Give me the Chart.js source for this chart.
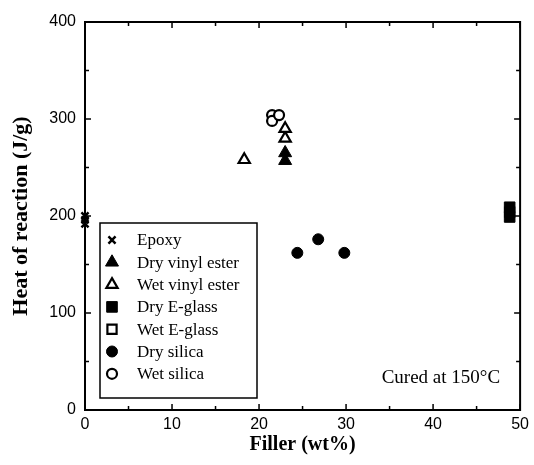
<!DOCTYPE html>
<html>
<head>
<meta charset="utf-8">
<script src="https://cdn.jsdelivr.net/npm/chart.js@4/dist/chart.umd.min.js"></script>
<style>
  html, body { margin: 0; padding: 0; background: #fff; }
  #wrap { width: 534px; height: 465px; }
</style>
</head>
<body>
<div id="wrap"><canvas id="grafico" width="534" height="465"></canvas></div>
<script>
// datos
const etiquetas = ['Epoxy', 'Dry vinyl ester', 'Wet vinyl ester', 'Dry E-glass', 'Wet E-glass', 'Dry silica', 'Wet silica'];

const epoxyX = [0, 0, 0];
const epoxyY = [192, 196, 200];

const dryVinylX = [23.0, 23.0];
const dryVinylY = [257, 265];

const wetVinylX = [18.3, 23.0, 23.0];
const wetVinylY = [258, 280, 290];

const dryGlassX = [48.8, 48.8];
const dryGlassY = [199, 209];

const wetGlassX = [48.8];
const wetGlassY = [204];

const drySilicaX = [24.4, 26.8, 29.8];
const drySilicaY = [162, 176, 162];

const wetSilicaX = [21.5, 21.5, 22.3];
const wetSilicaY = [304, 298, 304];

const ticksX = [0, 10, 20, 30, 40, 50];
const ticksY = [0, 100, 200, 300, 400];
const nota = 'Cured at 150°C';

const puntos = (xs, ys) => xs.map((x, i) => ({ x: x, y: ys[i] }));

const estilos = [
    { pointStyle: 'crossRot', pointRadius: 5, fill: '#000', borderWidth: 2.5 },
    { pointStyle: 'triangle', pointRadius: 7.5, fill: '#000', borderWidth: 1 },
    { pointStyle: 'triangle', pointRadius: 6.5, fill: '#fff', borderWidth: 2.2 },
    { pointStyle: 'rect', pointRadius: 7.5, fill: '#000', borderWidth: 1 },
    { pointStyle: 'rect', pointRadius: 6.5, fill: '#fff', borderWidth: 2.2 },
    { pointStyle: 'circle', pointRadius: 5.5, fill: '#000', borderWidth: 1 },
    { pointStyle: 'circle', pointRadius: 5, fill: '#fff', borderWidth: 2.2 }
];

const series = [
    puntos(epoxyX, epoxyY),
    puntos(dryVinylX, dryVinylY),
    puntos(wetVinylX, wetVinylY),
    puntos(dryGlassX, dryGlassY),
    puntos(wetGlassX, wetGlassY),
    puntos(drySilicaX, drySilicaY),
    puntos(wetSilicaX, wetSilicaY)
];

// orden de dibujo: los huecos debajo de los rellenos
const ordenDibujo = [4, 2, 6, 0, 1, 3, 5];

const datasets = etiquetas.map((label, i) => ({
    label: label,
    data: series[i],
    pointStyle: estilos[i].pointStyle,
    pointRadius: estilos[i].pointRadius,
    pointHoverRadius: estilos[i].pointRadius,
    pointBackgroundColor: estilos[i].fill,
    pointBorderColor: '#000',
    pointBorderWidth: estilos[i].borderWidth,
    showLine: false,
    clip: false,
    order: ordenDibujo.length - ordenDibujo.indexOf(i)
}));

// marco, marcas hacia dentro, leyenda y nota
const marcoPlugin = {
    id: 'marco',
    beforeDatasetsDraw(chart) {
        const ctx = chart.ctx;
        const a = chart.chartArea;
        const sx = chart.scales.x;
        const sy = chart.scales.y;
        ctx.save();
        ctx.strokeStyle = '#000';
        ctx.lineWidth = 2;
        ctx.strokeRect(a.left, a.top, a.right - a.left, a.bottom - a.top);

        ctx.lineWidth = 1.5;
        ctx.beginPath();
        for (let v = 0; v <= 50; v += 5) {
            const px = sx.getPixelForValue(v);
            const len = v % 10 === 0 ? 6 : 4;
            ctx.moveTo(px, a.bottom); ctx.lineTo(px, a.bottom - len);
            ctx.moveTo(px, a.top); ctx.lineTo(px, a.top + len);
        }
        for (let v = 0; v <= 400; v += 50) {
            const py = sy.getPixelForValue(v);
            const len = v % 100 === 0 ? 6 : 4;
            ctx.moveTo(a.left, py); ctx.lineTo(a.left + len, py);
            ctx.moveTo(a.right, py); ctx.lineTo(a.right - len, py);
        }
        ctx.stroke();
        ctx.restore();
    },
    afterDatasetsDraw(chart) {
        const ctx = chart.ctx;
        const a = chart.chartArea;
        ctx.save();
        // leyenda
        const bx = a.left + 15, by = a.top + 201, bw = 157, bh = 175;
        ctx.fillStyle = '#fff';
        ctx.fillRect(bx, by, bw, bh);
        ctx.strokeStyle = '#000';
        ctx.lineWidth = 1.5;
        ctx.strokeRect(bx, by, bw, bh);
        ctx.font = '17px "Liberation Serif", "Times New Roman", serif';
        ctx.textBaseline = 'middle';
        ctx.textAlign = 'left';
        chart.data.datasets.forEach((ds, i) => {
            const yy = by + 17 + i * 22.3;
            ctx.fillStyle = ds.pointBackgroundColor;
            ctx.strokeStyle = '#000';
            ctx.lineWidth = ds.pointBorderWidth;
            Chart.helpers.drawPoint(ctx, {
                pointStyle: ds.pointStyle,
                radius: ds.pointRadius,
                rotation: 0,
                borderWidth: ds.pointBorderWidth
            }, bx + 12, yy);
            ctx.fillStyle = '#000';
            ctx.fillText(ds.label, bx + 37, yy + 1);
        });

        ctx.font = '19px "Liberation Serif", "Times New Roman", serif';
        ctx.textAlign = 'right';
        ctx.fillText(nota, a.right - 20, a.bottom - 32);
        ctx.restore();
    }
};

const ctx = document.getElementById('grafico').getContext('2d');
new Chart(ctx, {
    type: 'scatter',
    data: { datasets: datasets },
    options: {
        responsive: false,
        animation: false,
        layout: { padding: { left: 6, right: 12, top: 22, bottom: 0 } },
        plugins: {
            legend: { display: false },
            tooltip: { enabled: false }
        },
        scales: {
            x: {
                type: 'linear',
                min: 0,
                max: 50,
                afterBuildTicks: (scale) => { scale.ticks = ticksX.map(v => ({ value: v })); },
                afterFit: (scale) => { scale.height = 55; },
                grid: { display: false, drawTicks: false },
                border: { display: false },
                ticks: {
                    color: '#000',
                    padding: 5,
                    font: { family: '"Liberation Sans", Arial, sans-serif', size: 16 }
                },
                title: {
                    display: true,
                    text: 'Filler (wt%)',
                    color: '#000',
                    padding: { top: 0, bottom: 8 },
                    font: { family: '"Liberation Serif", "Times New Roman", serif', size: 20, weight: 'bold' }
                }
            },
            y: {
                type: 'linear',
                min: 0,
                max: 400,
                afterBuildTicks: (scale) => { scale.ticks = ticksY.map(v => ({ value: v })); },
                afterFit: (scale) => { scale.width = 79; },
                grid: { display: false, drawTicks: false },
                border: { display: false },
                ticks: {
                    color: '#000',
                    padding: 9,
                    font: { family: '"Liberation Sans", Arial, sans-serif', size: 16 }
                },
                title: {
                    display: true,
                    text: 'Heat of reaction (J/g)',
                    color: '#000',
                    padding: { top: 2, bottom: 0 },
                    font: { family: '"Liberation Serif", "Times New Roman", serif', size: 22, weight: 'bold' }
                }
            }
        }
    },
    plugins: [marcoPlugin]
});
</script>
</body>
</html>
